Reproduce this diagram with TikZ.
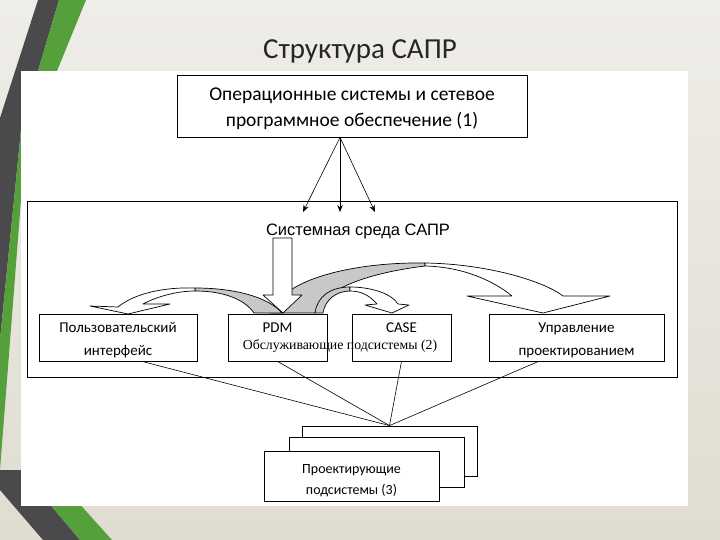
\documentclass[tikz,border=0pt]{standalone}
\usepackage{fontspec}
\setmainfont{Carlito}
\newfontfamily\arialfont{Liberation Sans}
\newfontfamily\timesfont{Liberation Serif}
\usetikzlibrary{arrows, arrows.meta, positioning}
\definecolor{slidetop}{RGB}{239,237,232}
\definecolor{slidebottom}{RGB}{224,220,209}
\definecolor{stripedark}{RGB}{74,74,76}
\definecolor{stripegreen}{RGB}{86,160,60}
\definecolor{bandgrey}{RGB}{200,200,200}
\tikzset{
    >={Stealth[length=7pt, width=5.5pt]}, % small filled arrow heads
    box/.style={draw, fill=white, line width=0.8pt, inner sep=0pt}, % frame of one subsystem
    small/.style={box, minimum height=47pt}, % boxes inside the CAD environment
    smalltext/.style={align=center, font=\fontsize{15}{23}\selectfont}, % their captions
    stack/.style={box, minimum width=175pt, minimum height=50pt}, % pile of design subsystems
    stacktext/.style={align=center, font=\fontsize{14}{21}\selectfont}, % caption of the pile
    band/.style={draw, line width=0.7pt, line join=round}, % curved block arrows
    link/.style={line width=0.6pt}, % thin lines
}
\begin{document}
\begin{tikzpicture}[x=1pt, y=-1pt]
    \useasboundingbox (0,0) rectangle (720,540);
    % slide background
    \shade[top color=slidetop, bottom color=slidebottom] (0,0) rectangle (720,540);
    \fill[stripedark] (38,0) -- (59,0) -- (38,71) -- (21,130) -- (0,340) -- (0,118) -- cycle;
    \fill[stripegreen] (59,0) -- (86,0) -- (57,71) -- (21,200) -- (0,470) -- (0,340) -- (21,130) -- (38,71) -- cycle;
    \fill[stripedark] (0,470) -- (0,490) -- (43,540) -- (80,540) -- (21,470) -- cycle;
    \fill[stripegreen] (80,540) -- (112,540) -- (40,460) -- (21,470) -- cycle;
    \fill[white] (21,71) rectangle (688,506);
    \node[font=\fontsize{29}{29}\selectfont, text=black!85] (title) at (360,51) {Структура САПР};

    % level 1
    \node[box, minimum width=350pt, minimum height=62pt] (os) at (352,106) {};
    \node[align=center, font=\fontsize{19.5}{26}\selectfont] (ostext) at ([yshift=-3pt]os.center)
        {Операционные системы и сетевое\\программное обеспечение (1)};
    \node[draw, line width=0.8pt, minimum width=650pt, minimum height=176pt] (env) at (352,289) {};
    \coordinate (in1) at (303,212);
    \coordinate (in2) at (340,212);
    \coordinate (in3) at (375,212);
    \draw[link, ->] ([xshift=-12pt]os.south) -- (in1);
    \draw[link, ->] ([xshift=-12pt]os.south) -- (in2);
    \draw[link, ->] ([xshift=-12pt]os.south) -- (in3);
    \node[font=\arialfont\fontsize{16.5}{16.5}\selectfont] (envlabel) at (358,231) {Системная среда САПР};

    % block arrows of the environment
    \draw[band, fill=bandgrey] (270,313) .. controls (285,275) and (365,262) .. (425,263) -- (425,266)
        .. controls (360,274) and (322,292) .. (315,313) -- cycle;
    \draw[band, fill=white] (425,263) .. controls (490,264) and (545,282) .. (563,296) -- (610,296) -- (543,313)
        -- (467,296) -- (512,296) .. controls (495,282) and (465,267) .. (425,266) -- cycle;
    \draw[band, fill=bandgrey] (195,288) .. controls (235,288) and (268,297) .. (282,313) -- (254,313)
        .. controls (245,300) and (225,291) .. (195,291) -- cycle;
    \draw[band, fill=white] (195,288) .. controls (165,287) and (135,293) .. (118,307) -- (90,306) -- (128,314)
        -- (170,304) -- (143,304) .. controls (158,296) and (178,291) .. (195,291) -- cycle;
    \draw[band, fill=bandgrey] (315,313) .. controls (317,297) and (330,287) .. (350,287) -- (350,291)
        .. controls (336,291) and (325,300) .. (323,313) -- cycle;
    \draw[band, fill=white] (350,287) .. controls (372,287) and (392,294) .. (398,304) -- (409,305) -- (392,313)
        -- (365,305) -- (377,304) .. controls (370,296) and (362,291) .. (350,291) -- cycle;
    \draw[band, fill=white] (273,238) -- (292,238) -- (292,295) -- (302,295) -- (283,313) -- (263,295)
        -- (273,295) -- cycle;

    % level 2
    \node[small, minimum width=158pt] (ui) at (118,337.5) {};
    \node[small, minimum width=99pt] (pdm) at (277.5,337.5) {};
    \node[small, minimum width=99pt] (case) at (401.5,337.5) {};
    \node[small, minimum width=175pt] (mgmt) at (576.5,337.5) {};
    \node[smalltext] (uitext) at ([yshift=-3pt]ui.center) {Пользовательский\\интерфейс};
    \node[smalltext] (pdmtext) at ([yshift=-3pt]pdm.center) {PDM\\\vphantom{ф}};
    \node[smalltext] (casetext) at ([yshift=-3pt]case.center) {CASE\\\vphantom{ф}};
    \node[smalltext] (mgmttext) at ([yshift=-3pt]mgmt.center) {Управление\\проектированием};
    \node[font=\timesfont\fontsize{13.8}{13.8}\selectfont] (service) at (340,346) {Обслуживающие подсистемы (2)};

    % level 3
    \node[stack] (back) at (389.5,451) {};
    \draw[link] ([xshift=24pt]ui.south) -- (back.north);
    \draw[link] (pdm.south) -- (back.north);
    \draw[link] (case.south) -- (back.north);
    \draw[link] ([xshift=-38pt]mgmt.south) -- (back.north);
    \node[stacktext] (backtext) at ([yshift=-5pt]back.center) {Проектирующие\\подсистемы (3)};
    \node[stack] (middle) at (376.5,462.5) {};
    \node[stacktext] (middletext) at ([yshift=-5pt]middle.center) {Проектирующие\\подсистемы (3)};
    \node[stack] (front) at (351.5,476) {};
    \node[stacktext] (fronttext) at ([yshift=-5pt]front.center) {Проектирующие\\подсистемы (3)};
\end{tikzpicture}
\end{document}
